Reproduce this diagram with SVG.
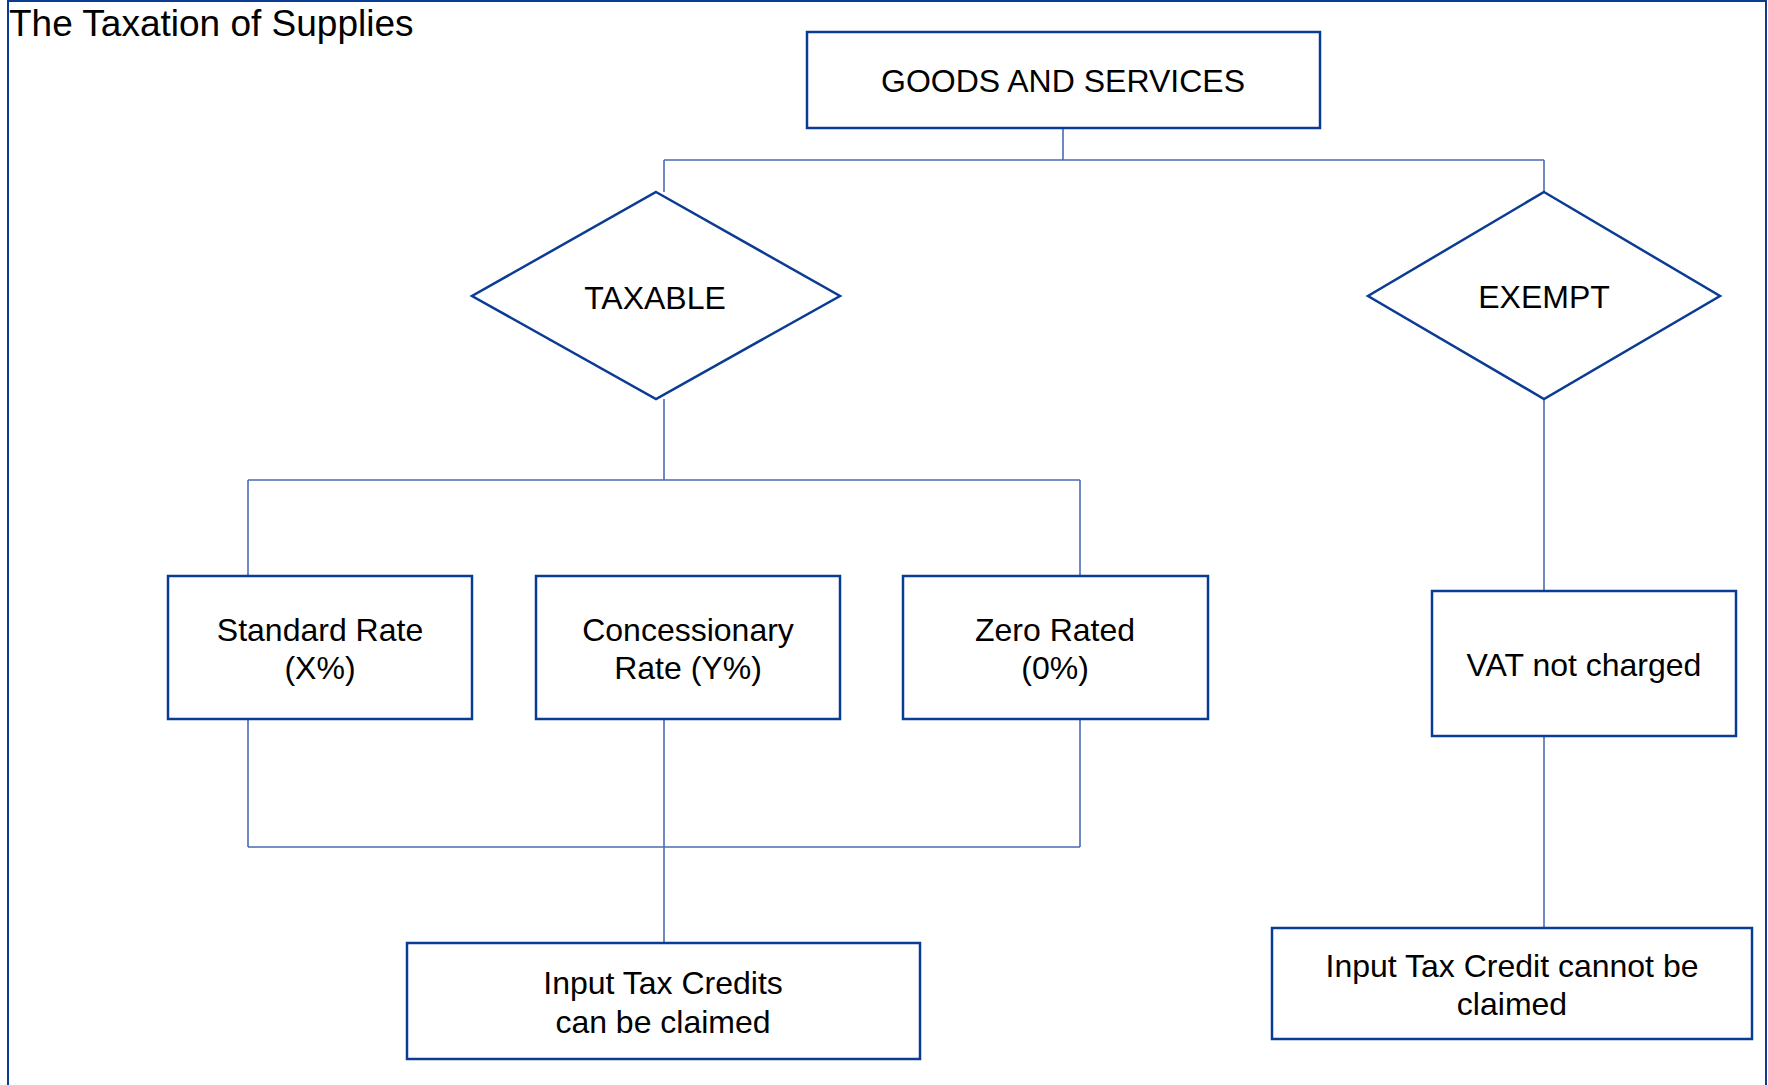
<svg xmlns="http://www.w3.org/2000/svg" width="1768" height="1085" viewBox="0 0 1768 1085">
<style>
.frame{fill:none;stroke:#0B3C93;stroke-width:2}
.box{fill:#ffffff;stroke:#0B3C93;stroke-width:2.5}
.conn{fill:none;stroke:#4A6CB3;stroke-width:1.6}
text{font-family:"Liberation Sans",Arial,sans-serif;fill:#000;}
.lbl{font-size:32px;text-anchor:middle}
.title{font-size:37px}
</style>
<rect width="1768" height="1085" fill="#ffffff"/>
<path class="frame" d="M8,1100 L8,1 L1766,1 L1766,1100"/>
<text class="title" x="9" y="36">The Taxation of Supplies</text>
<g id="connectors">
<path class="conn" d="M1063,128 V160 M664,160 H1544 M664,160 V192 M1544,160 V192"/>
<path class="conn" d="M664,399 V480 M248,480 H1080 M248,480 V576 M1080,480 V576"/>
<path class="conn" d="M248,719 V847 M664,719 V943 M1080,719 V847 M248,847 H1080"/>
<path class="conn" d="M1544,399 V591 M1544,736 V928"/>
</g>
<g id="goods">
<rect class="box" x="807" y="32" width="513" height="96"/>
<text class="lbl" x="1063" y="92">GOODS AND SERVICES</text>
</g>
<g id="taxable">
<polygon class="box" points="656,192 840,296 656,399 472,296"/>
<text class="lbl" x="655" y="309">TAXABLE</text>
</g>
<g id="exempt">
<polygon class="box" points="1544,192 1720,296 1544,399 1368,296"/>
<text class="lbl" x="1544" y="308">EXEMPT</text>
</g>
<g id="standard">
<rect class="box" x="168" y="576" width="304" height="143"/>
<text class="lbl" x="320" y="641">Standard Rate</text>
<text class="lbl" x="320" y="679">(X%)</text>
</g>
<g id="concessionary">
<rect class="box" x="536" y="576" width="304" height="143"/>
<text class="lbl" x="688" y="641">Concessionary</text>
<text class="lbl" x="688" y="679">Rate (Y%)</text>
</g>
<g id="zero">
<rect class="box" x="903" y="576" width="305" height="143"/>
<text class="lbl" x="1055" y="641">Zero Rated</text>
<text class="lbl" x="1055" y="679">(0%)</text>
</g>
<g id="vat">
<rect class="box" x="1432" y="591" width="304" height="145"/>
<text class="lbl" x="1584" y="676">VAT not charged</text>
</g>
<g id="itc-claimed">
<rect class="box" x="407" y="943" width="513" height="116"/>
<text class="lbl" x="663" y="994">Input Tax Credits</text>
<text class="lbl" x="663" y="1033">can be claimed</text>
</g>
<g id="itc-not">
<rect class="box" x="1272" y="928" width="480" height="111"/>
<text class="lbl" x="1512" y="977">Input Tax Credit cannot be</text>
<text class="lbl" x="1512" y="1015">claimed</text>
</g>
</svg>
